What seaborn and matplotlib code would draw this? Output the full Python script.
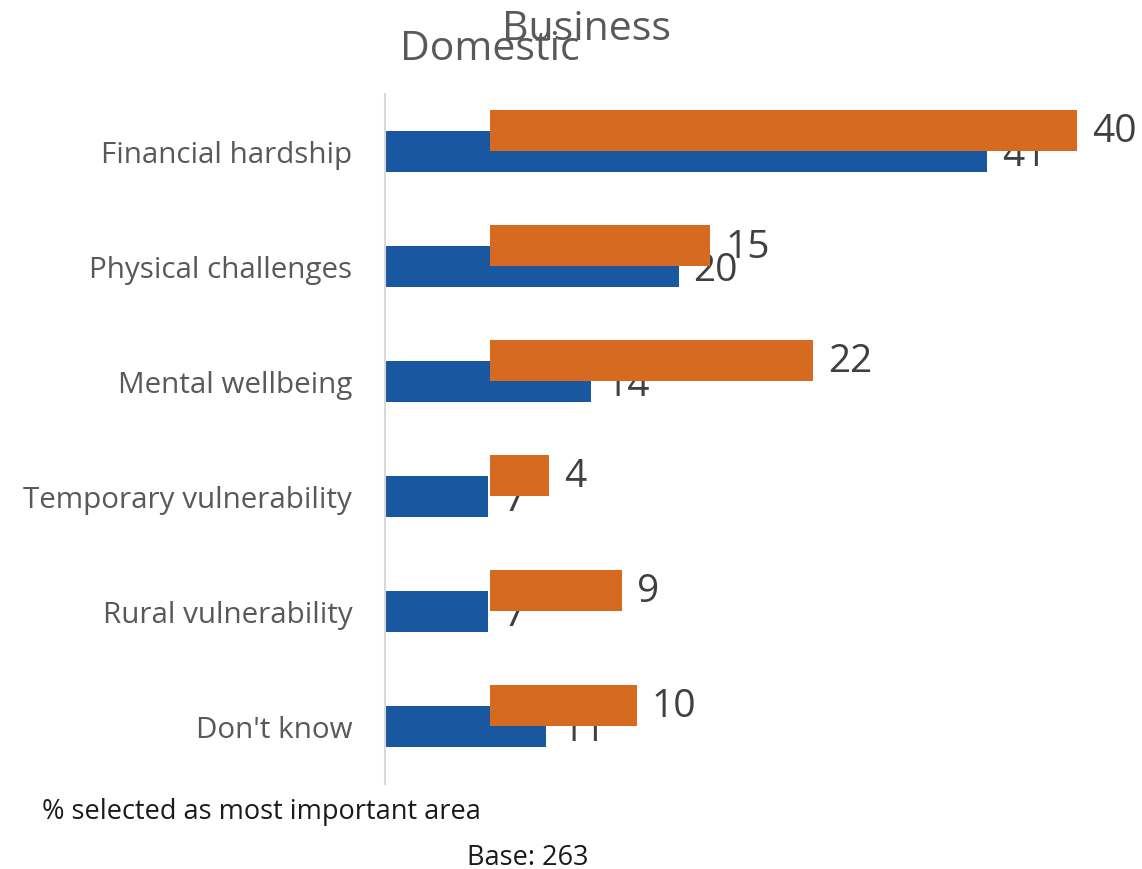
import matplotlib
matplotlib.use("Agg")
import matplotlib.pyplot as plt
import seaborn as sns
import pandas as pd

categories = ["Financial hardship", "Physical challenges", "Mental wellbeing",
              "Temporary vulnerability", "Rural vulnerability", "Don't know"]
domestic = [41, 20, 14, 7, 7, 11]
business = [40, 15, 22, 4, 9, 10]

BLUE = "#1A57A1"
ORANGE = "#D66A20"
LABEL_GREY = "#595959"
VALUE_GREY = "#404040"

sns.set_theme(style="white")
plt.rcParams["font.family"] = ["Open Sans", "DejaVu Sans"]

W, H = 1142, 870
fig = plt.figure(figsize=(W / 100, H / 100), dpi=100)

px_per_unit = 14.68
xmax_dom, xmax_bus = 48, 44

# Domestic panel (with category labels)
ax_dom = fig.add_axes([385 / W, (H - 785) / H, xmax_dom * px_per_unit / W, 690 / H])
df_dom = pd.DataFrame({"category": categories, "value": domestic})
sns.barplot(data=df_dom, x="value", y="category", ax=ax_dom, color=BLUE,
            width=0.355, saturation=1, orient="h", linewidth=0)
ax_dom.set_xlim(0, xmax_dom)
ax_dom.set_ylim(len(categories) - 0.5, -0.5)

# Business panel, shifted right and up, drawn on top
ax_bus = fig.add_axes([490 / W, (H - 764) / H, xmax_bus * px_per_unit / W, 690 / H])
df_bus = pd.DataFrame({"category": categories, "value": business})
sns.barplot(data=df_bus, x="value", y="category", ax=ax_bus, color=ORANGE,
            width=0.355, saturation=1, orient="h", linewidth=0)
ax_bus.set_xlim(0, xmax_bus)
ax_bus.set_ylim(len(categories) - 0.5, -0.5)
ax_bus.patch.set_alpha(0)

for ax in (ax_dom, ax_bus):
    ax.set_xlabel("")
    ax.set_ylabel("")
    ax.set_xticks([])
    for s in ("top", "right", "bottom"):
        ax.spines[s].set_visible(False)

ax_dom.spines["left"].set_color("#d9d9d9")
ax_dom.spines["left"].set_linewidth(1.5)
ax_dom.tick_params(axis="y", length=0, pad=23.5, labelsize=21.3, labelcolor=LABEL_GREY)

ax_bus.spines["left"].set_visible(False)
ax_bus.set_yticks([])

for ax, vals in ((ax_dom, domestic), (ax_bus, business)):
    for i, v in enumerate(vals):
        ax.annotate(f"{v}", xy=(v, i), xytext=(15, -4 if ax is ax_dom else -1),
                    textcoords="offset pixels", va="center", ha="left",
                    fontsize=28, color=VALUE_GREY, annotation_clip=False)

fig.text(490 / W, 1 - 50 / H, "Domestic", ha="center", va="center",
         fontsize=29.5, color=LABEL_GREY)
fig.text(587 / W, 1 - 30 / H, "Business", ha="center", va="center",
         fontsize=29.5, color=LABEL_GREY)

fig.text(42 / W, 1 - 812 / H, "% selected as most important area", ha="left",
         va="center", fontsize=19.5, color="#1a1a1a")
fig.text(528 / W, 1 - 858 / H, "Base: 263", ha="center", va="center",
         fontsize=19.5, color="#1a1a1a")

fig.savefig("out.png", dpi=100)
